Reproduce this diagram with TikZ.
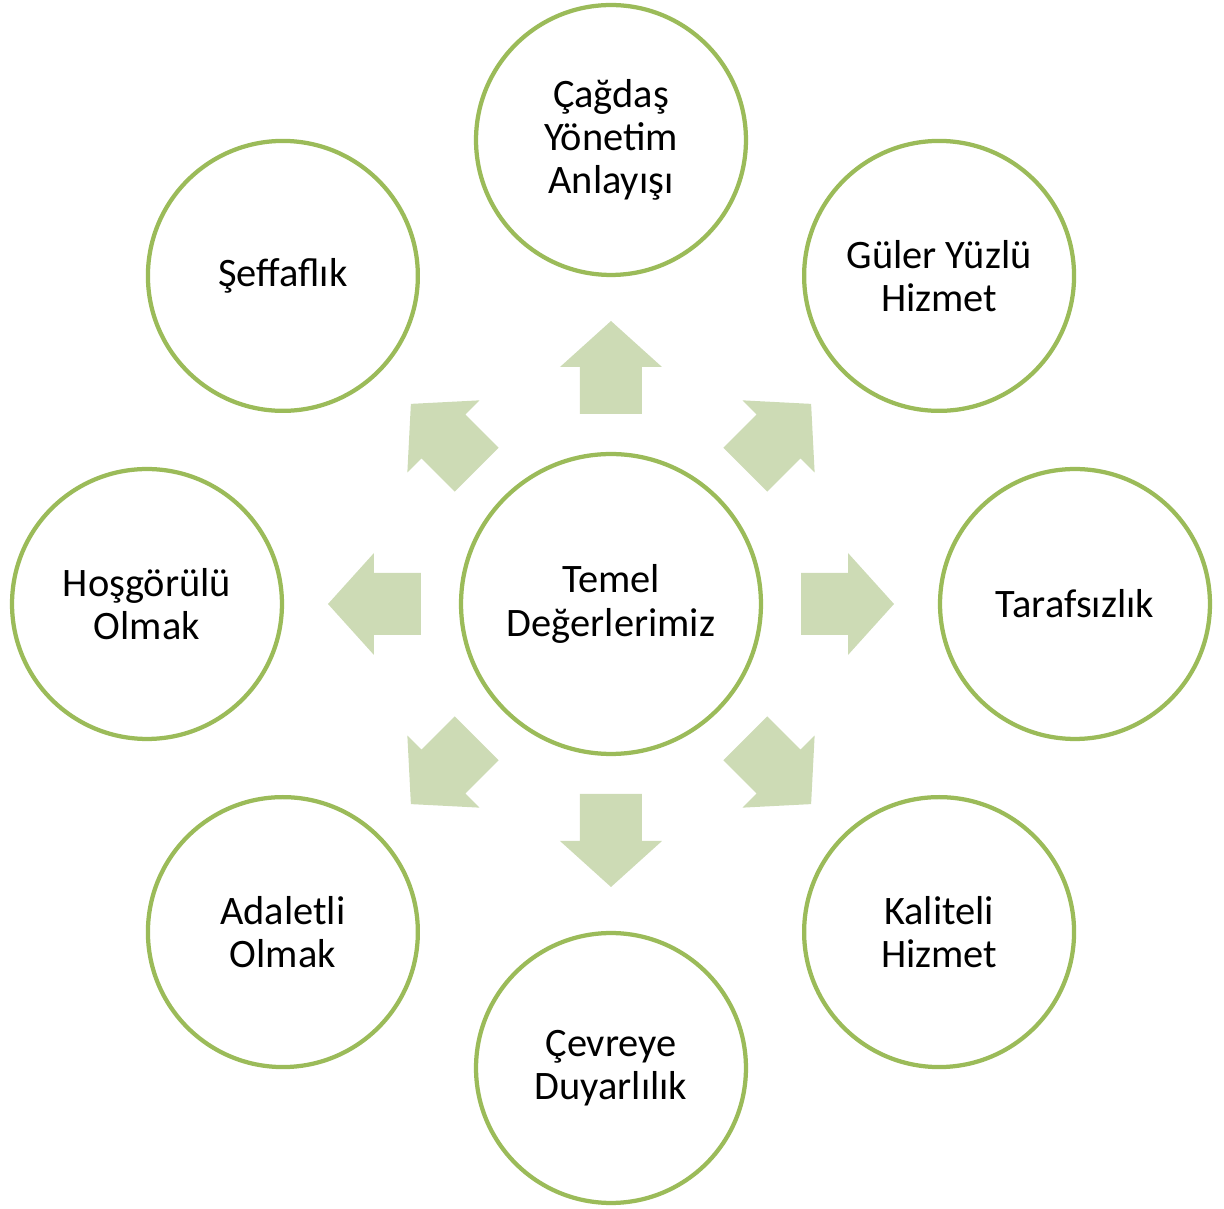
\documentclass[tikz,border=0pt]{standalone}
\usepackage{fontspec}
\setmainfont{Carlito}
\usepackage{tikz}
\definecolor{olive}{RGB}{155,187,89}
\definecolor{paleolive}{RGB}{205,219,181}
\tikzset{
  value/.style={circle, draw=olive, line width=0.085cm, fill=white, minimum size=5.4cm, align=center, font=\fontsize{23}{24.6}\selectfont},
  core/.style={value, minimum size=6cm},
  blockarrow/.style={fill=paleolive}
}

\begin{document}
\begin{tikzpicture}[x=0.02cm,y=0.02cm]
\useasboundingbox (-611,-605) rectangle (613,604);
\node[core] (temel) at (0,0) {Temel\\Değerlerimiz};
\node[value] (cagdas) at (90:464) {Çağdaş\\Yönetim\\Anlayışı};
\node[value] (guler) at (45:464) {Güler Yüzlü\\Hizmet};
\node[value] (taraf) at (0:464) {Tarafsızlık};
\node[value] (kalite) at (-45:464) {Kaliteli\\Hizmet};
\node[value] (cevre) at (-90:464) {Çevreye\\Duyarlılık};
\node[value] (adalet) at (-135:464) {Adaletli\\Olmak};
\node[value] (hosgoru) at (180:464) {Hoşgörülü\\Olmak};
\node[value] (seffaf) at (135:464) {Şeffaflık};
\foreach \a in {0,45,...,315}
  \fill[blockarrow, rotate=\a] (190,-31) -- (237,-31) -- (237,-51) -- (283,0) -- (237,51) -- (237,31) -- (190,31) -- cycle;
\end{tikzpicture}
\end{document}
